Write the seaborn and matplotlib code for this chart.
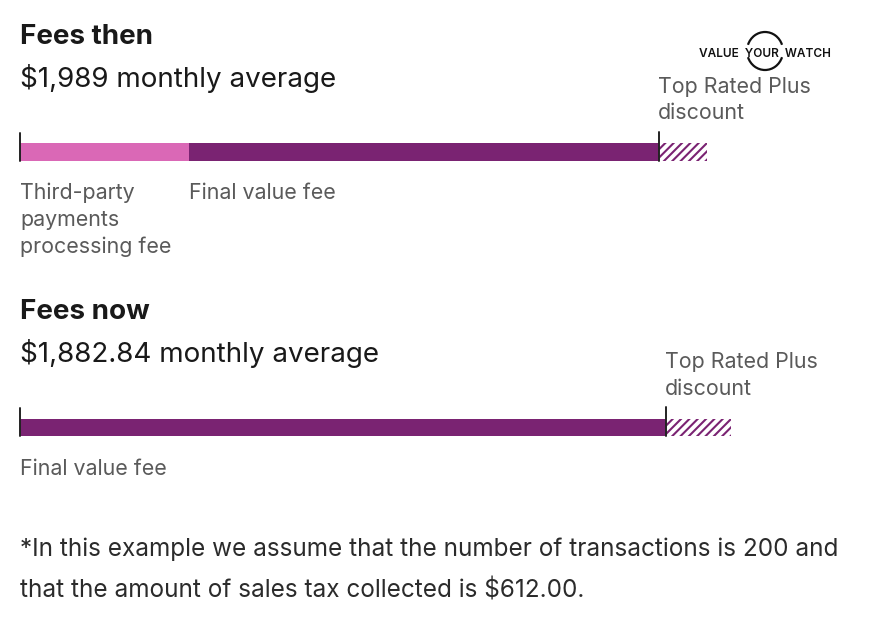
import matplotlib
matplotlib.use("Agg")
import matplotlib.pyplot as plt
from matplotlib.patches import Arc
from matplotlib.lines import Line2D
import seaborn as sns
import pandas as pd

# ---- data (bar lengths, in pixel-like units) ----
then_segments = ["Third-party payments processing fee", "Final value fee", "Top Rated Plus discount"]
then_values = [169, 470, 48]
now_segments = ["Final value fee", "Top Rated Plus discount"]
now_values = [646, 65]

title_then = "Fees then"
sub_then = "$1,989 monthly average"
title_now = "Fees now"
sub_now = "$1,882.84 monthly average"
footnote = ["*In this example we assume that the number of transactions is 200 and",
            "that the amount of sales tax collected is $612.00."]

PINK = "#DA68B6"
PURPLE = "#7A2372"
DARK = "#191919"
GREY = "#5a5a5a"

sns.set_theme(style="white")
plt.rcParams["font.family"] = ["Inter", "DejaVu Sans"]
plt.rcParams["hatch.linewidth"] = 1.5

W, H = 884, 621
fig = plt.figure(figsize=(W / 100, H / 100), dpi=100)
fig.patch.set_facecolor("white")


def fx(x):
    return x / W


def fy(y):
    return 1 - y / H


def txt(x, y, s, size, color, weight="normal", **kw):
    fig.text(fx(x), fy(y), s, fontsize=size, color=color, fontweight=weight,
             va="baseline", ha="left", **kw)


def stacked_bar(y_top, y_bot, segments, values, colors, hatched_last=True):
    ax = fig.add_axes([fx(20), fy(y_bot), fx(860) - fx(20), fy(y_top) - fy(y_bot)])
    cums = []
    total = 0
    for v in values:
        total += v
        cums.append(total)
    # draw from longest (last) to shortest so shorter overlay longer
    for i in range(len(values) - 1, -1, -1):
        df = pd.DataFrame({"seg": ["bar"], "val": [cums[i]]})
        if i == len(values) - 1 and hatched_last:
            sns.barplot(data=df, x="val", y="seg", orient="h", ax=ax, width=1,
                        color="white", edgecolor=colors[i], hatch="////",
                        linewidth=0, saturation=1)
        else:
            sns.barplot(data=df, x="val", y="seg", orient="h", ax=ax, width=1,
                        color=colors[i], linewidth=0, saturation=1)
    ax.set_xlim(0, 840)
    ax.set_ylim(0.5, -0.5)
    ax.axis("off")
    return ax, cums


def tick(x, y1, y2):
    fig.add_artist(Line2D([fx(x), fx(x)], [fy(y1), fy(y2)], color="#222222",
                          linewidth=1.4, transform=fig.transFigure))


LBL = 15.4

# ---- Fees then ----
txt(20, 44, title_then, 20, DARK, weight="bold")
txt(20, 87, sub_then, 20, DARK)
ax1, c1 = stacked_bar(143, 161, then_segments, then_values, [PINK, PURPLE, PURPLE])
tick(20, 133, 161)
tick(20 + c1[1], 132, 161)
txt(658, 93, "Top Rated Plus", LBL, GREY)
txt(658, 119, "discount", LBL, GREY)
txt(20, 199, "Third-party", LBL, GREY)
txt(20, 226, "payments", LBL, GREY)
txt(20, 253, "processing fee", LBL, GREY)
txt(20 + c1[0], 199, "Final value fee", LBL, GREY)

# ---- Fees now ----
txt(20, 319, title_now, 20, DARK, weight="bold")
txt(20, 362, sub_now, 20, DARK)
ax2, c2 = stacked_bar(419, 436, now_segments, now_values, [PURPLE, PURPLE])
tick(20, 408, 436)
tick(20 + c2[0], 407, 436)
txt(665, 368, "Top Rated Plus", LBL, GREY)
txt(665, 395, "discount", LBL, GREY)
txt(20, 475, "Final value fee", LBL, GREY)

# ---- footnote ----
txt(20, 556, footnote[0], 17.5, "#2b2b2b")
txt(20, 597, footnote[1], 17.5, "#2b2b2b")

# ---- logo ----
fig.text(fx(765), fy(57), "VALUE  YOUR  WATCH", fontsize=8.5, color="#111111",
         fontweight="semibold", ha="center", va="baseline")
axl = fig.add_axes([0, 0, 1, 1])
axl.set_xlim(0, W)
axl.set_ylim(H, 0)
axl.axis("off")
axl.add_patch(Arc((765, 51), 36, 38, theta1=200, theta2=340, color="#111111", lw=1.6))
axl.add_patch(Arc((765, 51), 36, 38, theta1=20, theta2=160, color="#111111", lw=1.6))

fig.savefig("out.png", dpi=100, facecolor="white")
